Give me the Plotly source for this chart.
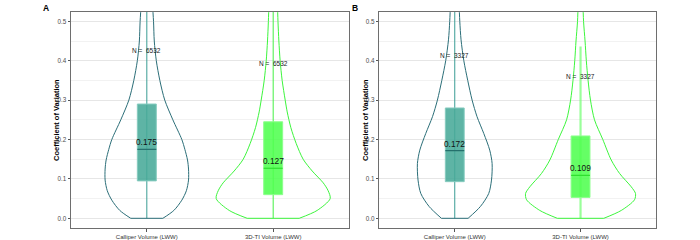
import plotly.graph_objects as go

# ---------------- data ----------------
categories = ["Calliper Volume (LWW)", "3D-TI Volume (LWW)"]
panel_labels = ["A", "B"]
y_title = "Coefficient of Variation"
n_labels = [["N =  6532", "N =  6532"], ["N =  3327", "N =  3327"]]
n_label_y = [[0.425, 0.393], [0.414, 0.360]]

# box statistics  [panel][category]
q1 = [[0.095, 0.060], [0.093, 0.053]]
median = [[0.175, 0.127], [0.172, 0.109]]
q3 = [[0.290, 0.245], [0.280, 0.209]]
whisker_low = [[0.0, 0.0], [0.0, 0.0]]
whisker_high = [[0.62, 0.62], [0.62, 0.436]]
median_text = [["0.175", "0.127"], ["0.172", "0.109"]]

# violin density profiles (half-widths in category units)
levels_A_cal = [0.0, 0.02, 0.046, 0.07, 0.097, 0.125, 0.148, 0.175, 0.2, 0.25, 0.3, 0.35, 0.4, 0.45, 0.5, 0.56]
width_A_cal = [0.127, 0.214, 0.277, 0.313, 0.330, 0.330, 0.322, 0.301, 0.277, 0.206, 0.142, 0.103, 0.075, 0.059, 0.053, 0.041]
levels_A_ti = [0.0, 0.02, 0.05, 0.07, 0.09, 0.12, 0.15, 0.19, 0.23, 0.27, 0.3, 0.35, 0.4, 0.45, 0.5, 0.56]
width_A_ti = [0.206, 0.348, 0.451, 0.435, 0.396, 0.309, 0.237, 0.182, 0.140, 0.111, 0.095, 0.071, 0.055, 0.045, 0.038, 0.032]
levels_B_cal = [0.0, 0.03, 0.063, 0.097, 0.139, 0.173, 0.215, 0.258, 0.3, 0.35, 0.4, 0.453, 0.5, 0.56]
width_B_cal = [0.106, 0.204, 0.270, 0.292, 0.297, 0.278, 0.231, 0.177, 0.138, 0.103, 0.072, 0.050, 0.040, 0.032]
levels_B_ti = [0.0, 0.02, 0.047, 0.063, 0.08, 0.114, 0.148, 0.2, 0.25, 0.3, 0.35, 0.4, 0.45, 0.5, 0.56]
width_B_ti = [0.185, 0.324, 0.429, 0.437, 0.403, 0.310, 0.244, 0.177, 0.111, 0.079, 0.060, 0.046, 0.036, 0.024, 0.018]

violins = [[(levels_A_cal, width_A_cal), (levels_A_ti, width_A_ti)],
           [(levels_B_cal, width_B_cal), (levels_B_ti, width_B_ti)]]

y_ticks = [0.0, 0.1, 0.2, 0.3, 0.4, 0.5]
y_ticktext = ["0.0", "0.1", "0.2", "0.3", "0.4", "0.5"]

# ---------------- style ----------------
FONT = "Liberation Sans, Arial, sans-serif"
violin_col = ["#2b6e78", "#3cf53c"]
box_fill = ["rgba(72,170,152,0.88)", "rgba(80,255,80,0.88)"]
box_line = ["#86cbbf", "#8cff8c"]
median_col = ["#25706c", "#2fe02f"]
whisk_col = [["#3a9d94", "#44f044"], ["#3a9d94", "rgba(120,255,120,0.75)"]]
whisk_w = [[1.0, 1.0], [1.0, 2.2]]
box_half = 0.075

W, H = 700, 240


def px_x(x):
    return x / W


def px_y(y):
    return 1 - y / H


x_domains = [[px_x(71), px_x(349)], [px_x(379.3), px_x(656)]]
y_domain = [px_y(228), px_y(12)]
y_range = [-0.0246, 0.5236]
letter_x = [46, 355]
ytitle_x = [56, 365]

fig = go.Figure()

for p in range(2):
    xa = "x" if p == 0 else "x2"
    ya = "y" if p == 0 else "y2"
    for c in range(2):
        lv, wd = violins[p][c]
        # whisker
        fig.add_trace(go.Scatter(x=[c, c], y=[whisker_low[p][c], whisker_high[p][c]], mode="lines",
                                 line=dict(color=whisk_col[p][c], width=whisk_w[p][c]),
                                 xaxis=xa, yaxis=ya, showlegend=False, hoverinfo="skip"))
        # violin outline (sides)
        xs = [c - w for w in wd] + [None] + [c + w for w in wd]
        ys = list(lv) + [None] + list(lv)
        fig.add_trace(go.Scatter(x=xs, y=ys, mode="lines",
                                 line=dict(color=violin_col[c], width=1, shape="spline", smoothing=0.8),
                                 xaxis=xa, yaxis=ya, showlegend=False, hoverinfo="skip"))
        # violin bottom (trimmed)
        fig.add_trace(go.Scatter(x=[c - wd[0], c + wd[0]], y=[lv[0], lv[0]], mode="lines",
                                 line=dict(color=violin_col[c], width=1),
                                 xaxis=xa, yaxis=ya, showlegend=False, hoverinfo="skip"))
        # box
        fig.add_trace(go.Scatter(x=[c - box_half, c + box_half, c + box_half, c - box_half, c - box_half],
                                 y=[q1[p][c], q1[p][c], q3[p][c], q3[p][c], q1[p][c]],
                                 mode="lines", fill="toself", fillcolor=box_fill[c],
                                 line=dict(color=box_line[c], width=1),
                                 xaxis=xa, yaxis=ya, showlegend=False, hoverinfo="skip"))
        # median line
        fig.add_trace(go.Scatter(x=[c - box_half, c + box_half], y=[median[p][c], median[p][c]],
                                 mode="lines", line=dict(color=median_col[c], width=1.2),
                                 xaxis=xa, yaxis=ya, showlegend=False, hoverinfo="skip"))
        # median label
        fig.add_annotation(x=c, y=median[p][c], xref=xa, yref=ya, text=median_text[p][c],
                           showarrow=False, yanchor="bottom", yshift=0,
                           font=dict(family=FONT, size=8.3, color="#111111"))
        # N label
        fig.add_annotation(x=c, y=n_label_y[p][c], xref=xa, yref=ya,
                           text=n_labels[p][c].replace("  ", "&nbsp;&nbsp;"),
                           showarrow=False, font=dict(family=FONT, size=6.5, color="#1a1a1a"))

    # panel letter
    fig.add_annotation(x=px_x(letter_x[p]), y=px_y(7.5), xref="paper", yref="paper",
                       xanchor="center", yanchor="middle",
                       text="<b>%s</b>" % panel_labels[p], showarrow=False,
                       font=dict(family=FONT, size=8.5, color="black"))
    # y-axis title
    fig.add_annotation(x=px_x(ytitle_x[p]), y=(y_domain[0] + y_domain[1]) / 2, xref="paper", yref="paper",
                       xanchor="center", yanchor="middle", textangle=-90,
                       text="<b>%s</b>" % y_title, showarrow=False,
                       font=dict(family=FONT, size=7.5, color="black"))

axis_common = dict(showline=True, linecolor="#6e6e6e", linewidth=1, mirror=True,
                   ticks="outside", ticklen=2.5, tickcolor="#555555", zeroline=False)

for p in range(2):
    sfx = "" if p == 0 else "2"
    fig.update_layout(**{
        "xaxis" + sfx: dict(domain=x_domains[p], range=[-0.6, 1.6], tickvals=[0, 1], ticktext=categories,
                            showgrid=False, tickfont=dict(family=FONT, size=6, color="#333333"),
                            anchor="y" + sfx, automargin=False, **axis_common),
        "yaxis" + sfx: dict(domain=y_domain, range=y_range, tickvals=y_ticks, ticktext=y_ticktext,
                            showgrid=True, gridcolor="#e6e6e6", gridwidth=0.8,
                            minor=dict(dtick=0.05, tick0=0, showgrid=True, gridcolor="#f2f2f2",
                                       gridwidth=0.6, ticklen=0),
                            tickfont=dict(family=FONT, size=6.3, color="#4d4d4d"),
                            anchor="x" + sfx, automargin=False, **axis_common),
    })

fig.update_layout(width=W, height=H, margin=dict(l=0, r=0, t=0, b=0),
                  paper_bgcolor="white", plot_bgcolor="white", showlegend=False)

# remove the browser's default 8px body margin so the figure sits at the page origin
fig.write_html("out.html", config={"displayModeBar": False},
               post_script="document.body.style.margin='0px';")
